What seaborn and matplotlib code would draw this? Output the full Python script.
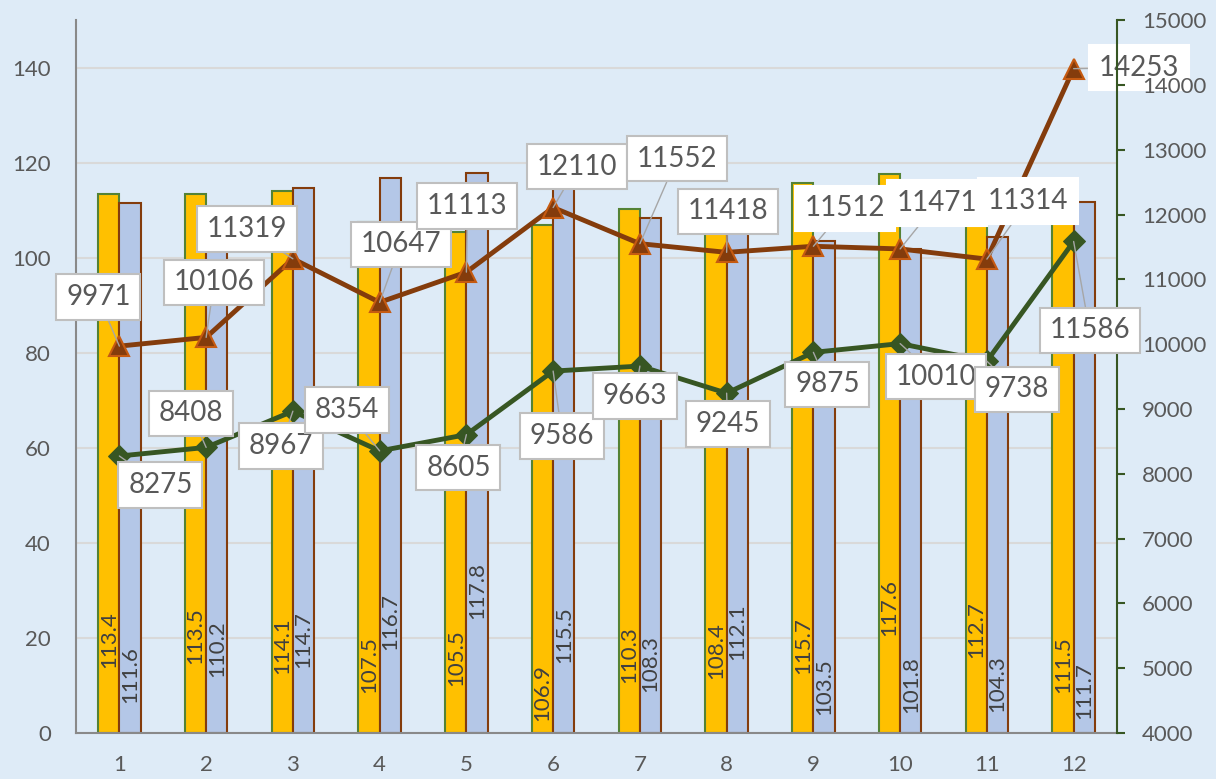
import pandas as pd
import seaborn as sns
import matplotlib.pyplot as plt

months = ['1', '2', '3', '4', '5', '6', '7', '8', '9', '10', '11', '12']
orange_vals = [113.4, 113.5, 114.1, 107.5, 105.5, 106.9, 110.3, 108.4, 115.7, 117.6, 112.7, 111.5]
blue_vals = [111.6, 110.2, 114.7, 116.7, 117.8, 115.5, 108.3, 112.1, 103.5, 101.8, 104.3, 111.7]
brown_line = [9971, 10106, 11319, 10647, 11113, 12110, 11552, 11418, 11512, 11471, 11314, 14253]
green_line = [8275, 8408, 8967, 8354, 8605, 9586, 9663, 9245, 9875, 10010, 9738, 11586]

# where the rotated bar labels sit (left axis units) and label box offsets (pixels)
orange_lab_y = [19.6, 20.4, 18.3, 14.5, 15.8, 8.6, 16.4, 17.3, 18.5, 26.5, 21.7, 14.3]
blue_lab_y = [12.4, 17.7, 19.6, 23.4, 30.1, 20.8, 14.7, 21.3, 9.7, 10.1, 10.3, 9.0]
brown_off = [(-21, 49), (8, 55), (-46, 30), (21, 58), (1, 66), (24, 41),
             (37, 85), (1, 41), (32, 38), (37, 46), (41, 58), (65, 1)]
green_off = [(41, -29), (-15, 34), (-12, -35), (-33, 41), (-8, -33), (9, -65),
             (-5, -30), (1, -31), (14, -32), (36, -33), (30, -28), (16, -89)]
# labels drawn without a grey frame in the original
brown_noframe = [8, 9, 10, 11]

bg = '#DEEBF7'
txt = '#595959'
sns.set_theme(style='white')
plt.rcParams['font.family'] = ['Lato', 'DejaVu Sans']

df = pd.DataFrame({'month': months * 2,
                   'value': orange_vals + blue_vals,
                   'series': ['a'] * 12 + ['b'] * 12})

fig = plt.figure(figsize=(12.16, 7.79), dpi=100, facecolor=bg)
ax = fig.add_axes([0.0625, 0.059, 0.8561, 0.915])
ax.set_facecolor(bg)

sns.barplot(data=df, x='month', y='value', hue='series', ax=ax, width=0.49,
            palette={'a': '#FFC000', 'b': '#B4C7E7'}, legend=False, saturation=1)
edge_cols = ['#548235', '#843C0C']
for cont, ec in zip(ax.containers, edge_cols):
    for bar in cont:
        bar.set_edgecolor(ec)
        bar.set_linewidth(1.5)

for i in range(12):
    ax.text(i - 0.1225, orange_lab_y[i], f'{orange_vals[i]:.1f}', rotation=90,
            ha='center', va='center', fontsize=16, color='#404040')
    ax.text(i + 0.1225, blue_lab_y[i], f'{blue_vals[i]:.1f}', rotation=90,
            ha='center', va='center', fontsize=16, color='#404040')

ax.set_xlim(-0.5, 11.5)
ax.set_ylim(0, 150)
ax.set_yticks(range(0, 141, 20))
ax.yaxis.grid(True, color='#D9D9D9', linewidth=1.5)
ax.set_axisbelow(True)
ax.set_xlabel('')
ax.set_ylabel('')
ax.tick_params(axis='both', length=0, labelsize=16, colors=txt)
ax.tick_params(axis='x', pad=16)
ax.tick_params(axis='y', pad=18)
for s in ['top', 'right']:
    ax.spines[s].set_visible(False)
ax.spines['left'].set_color('#898989')
ax.spines['bottom'].set_color('#898989')
ax.spines['left'].set_linewidth(1.5)
ax.spines['bottom'].set_linewidth(1.5)

ax2 = ax.twinx()
ax2.set_axisbelow(False)
xs = list(range(12))
sns.lineplot(x=xs, y=brown_line, ax=ax2, color='#843C0C', linewidth=3.5,
             marker='^', markersize=14, markerfacecolor='#843C0C',
             markeredgecolor='#C55A11', markeredgewidth=1.5)
sns.lineplot(x=xs, y=green_line, ax=ax2, color='#375623', linewidth=3.5,
             marker='D', markersize=11, markerfacecolor='#375623',
             markeredgecolor='#375623')
ax2.set_ylim(4000, 15000)
ax2.set_yticks(range(4000, 15001, 1000))
ax2.tick_params(axis='y', length=6, width=1.5, color='#375623', labelsize=16,
                labelcolor=txt, pad=12)
for s in ['top', 'left', 'bottom']:
    ax2.spines[s].set_visible(False)
ax2.spines['right'].set_color('#375623')
ax2.spines['right'].set_linewidth(1.5)

for name, vals, offs in [('b', brown_line, brown_off), ('g', green_line, green_off)]:
    for i, (v, off) in enumerate(zip(vals, offs)):
        plain = name == 'b' and i in brown_noframe
        box = dict(boxstyle='square,pad=0.35', fc='white',
                   ec='white' if plain else '#BFBFBF', lw=1.5)
        z = 2.4 if (name == 'b' and i == 11) else 3
        ax2.annotate(str(v), xy=(i, v), xytext=off, textcoords='offset pixels',
                     ha='center', va='center', fontsize=20, color=txt, bbox=box,
                     annotation_clip=False, zorder=z,
                     arrowprops=dict(arrowstyle='-', color='#A6A6A6', lw=1,
                                     shrinkA=0, shrinkB=0))

plt.savefig('out.png', dpi=100, facecolor=bg)
